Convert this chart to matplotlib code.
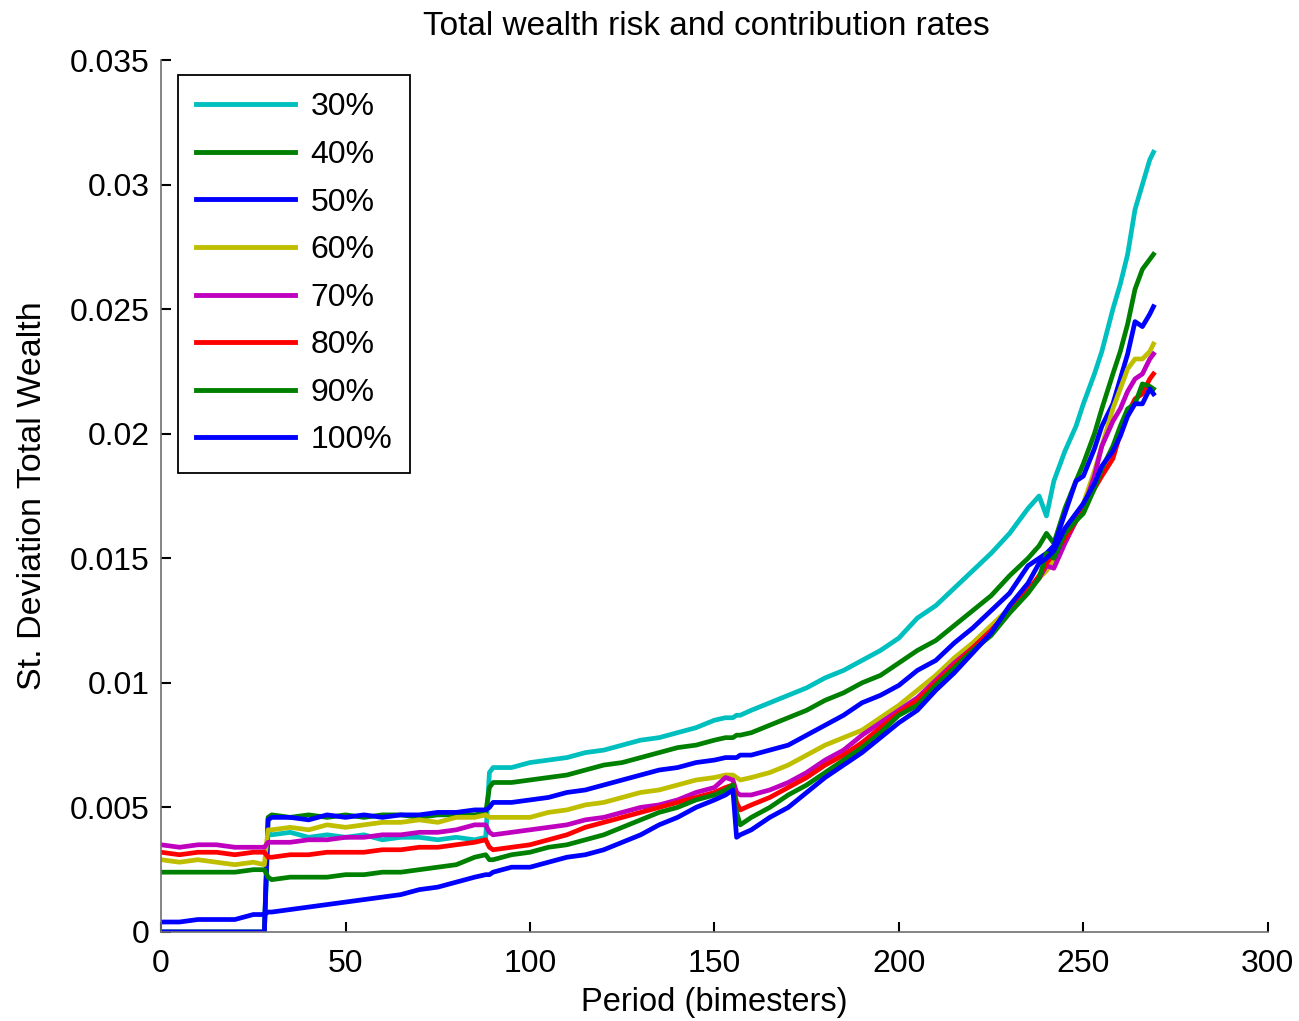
import matplotlib
matplotlib.use('Agg')
import matplotlib.pyplot as plt

plt.rcParams['font.family'] = ['Liberation Sans', 'DejaVu Sans']

periods = [0, 5, 10, 15, 20, 25, 28, 29, 30, 35, 40, 45, 50, 55, 60, 65, 70, 75, 80, 85,
           88, 89, 90, 95, 100, 105, 110, 115, 120, 125, 130, 135, 140, 145, 150,
           153, 155, 156, 157, 160, 165, 170, 175, 180, 185, 190, 195, 200, 205, 210,
           215, 220, 225, 230, 235, 238, 240, 242, 245, 248, 250, 253, 255, 258, 260,
           262, 264, 266, 268, 269]

r30 = [0, 0, 0, 0, 0, 0, 0, 0.0040, 0.0039, 0.0040, 0.0038, 0.0039, 0.0038, 0.0039, 0.0037,
       0.0038, 0.0038, 0.0037, 0.0038, 0.0037, 0.0038, 0.0064, 0.0066, 0.0066, 0.0068, 0.0069,
       0.0070, 0.0072, 0.0073, 0.0075, 0.0077, 0.0078, 0.0080, 0.0082, 0.0085, 0.0086, 0.0086,
       0.0087, 0.0087, 0.0089, 0.0092, 0.0095, 0.0098, 0.0102, 0.0105, 0.0109, 0.0113, 0.0118,
       0.0126, 0.0131, 0.0138, 0.0145, 0.0152, 0.0160, 0.0170, 0.0175, 0.0167, 0.0181, 0.0193,
       0.0203, 0.0212, 0.0224, 0.0233, 0.0250, 0.0260, 0.0272, 0.0290, 0.0300, 0.0310, 0.0313]

r40 = [0, 0, 0, 0, 0, 0, 0, 0.0046, 0.0047, 0.0046, 0.0047, 0.0046, 0.0047, 0.0046, 0.0047,
       0.0047, 0.0046, 0.0047, 0.0047, 0.0047, 0.0048, 0.0058, 0.0060, 0.0060, 0.0061, 0.0062,
       0.0063, 0.0065, 0.0067, 0.0068, 0.0070, 0.0072, 0.0074, 0.0075, 0.0077, 0.0078, 0.0078,
       0.0079, 0.0079, 0.0080, 0.0083, 0.0086, 0.0089, 0.0093, 0.0096, 0.0100, 0.0103, 0.0108,
       0.0113, 0.0117, 0.0123, 0.0129, 0.0135, 0.0143, 0.0150, 0.0155, 0.0160, 0.0156, 0.0170,
       0.0181, 0.0188, 0.0200, 0.0210, 0.0224, 0.0233, 0.0244, 0.0258, 0.0266, 0.0270, 0.0272]

r50 = [0, 0, 0, 0, 0, 0, 0, 0.0045, 0.0046, 0.0046, 0.0045, 0.0047, 0.0046, 0.0047, 0.0046,
       0.0047, 0.0047, 0.0048, 0.0048, 0.0049, 0.0049, 0.0050, 0.0052, 0.0052, 0.0053, 0.0054,
       0.0056, 0.0057, 0.0059, 0.0061, 0.0063, 0.0065, 0.0066, 0.0068, 0.0069, 0.0070, 0.0070,
       0.0070, 0.0071, 0.0071, 0.0073, 0.0075, 0.0079, 0.0083, 0.0087, 0.0092, 0.0095, 0.0099,
       0.0105, 0.0109, 0.0116, 0.0122, 0.0129, 0.0136, 0.0147, 0.0150, 0.0152, 0.0155, 0.0168,
       0.0181, 0.0183, 0.0194, 0.0203, 0.0212, 0.0222, 0.0232, 0.0245, 0.0243, 0.0248, 0.0251]

r60 = [0.0029, 0.0028, 0.0029, 0.0028, 0.0027, 0.0028, 0.0027, 0.0041, 0.0041, 0.0042, 0.0041,
       0.0043, 0.0042, 0.0043, 0.0044, 0.0044, 0.0045, 0.0044, 0.0046, 0.0046, 0.0047, 0.0046,
       0.0046, 0.0046, 0.0046, 0.0048, 0.0049, 0.0051, 0.0052, 0.0054, 0.0056, 0.0057, 0.0059,
       0.0061, 0.0062, 0.0063, 0.0063, 0.0062, 0.0061, 0.0062, 0.0064, 0.0067, 0.0071, 0.0075,
       0.0078, 0.0081, 0.0086, 0.0091, 0.0097, 0.0103, 0.0110, 0.0116, 0.0123, 0.0130, 0.0138,
       0.0142, 0.0145, 0.0150, 0.0157, 0.0165, 0.0172, 0.0185, 0.0195, 0.0210, 0.0218, 0.0226,
       0.0230, 0.0230, 0.0233, 0.0236]

r70 = [0.0035, 0.0034, 0.0035, 0.0035, 0.0034, 0.0034, 0.0034, 0.0036, 0.0036, 0.0036, 0.0037,
       0.0037, 0.0038, 0.0038, 0.0039, 0.0039, 0.0040, 0.0040, 0.0041, 0.0043, 0.0043, 0.0040,
       0.0039, 0.0040, 0.0041, 0.0042, 0.0043, 0.0045, 0.0046, 0.0048, 0.0050, 0.0051, 0.0053,
       0.0056, 0.0058, 0.0062, 0.0061, 0.0056, 0.0055, 0.0055, 0.0057, 0.0060, 0.0064, 0.0069,
       0.0073, 0.0079, 0.0084, 0.0089, 0.0094, 0.0101, 0.0108, 0.0114, 0.0121, 0.0129, 0.0137,
       0.0142, 0.0147, 0.0146, 0.0156, 0.0165, 0.0170, 0.0183, 0.0195, 0.0205, 0.0210, 0.0217,
       0.0222, 0.0224, 0.0230, 0.0232]

r80 = [0.0032, 0.0031, 0.0032, 0.0032, 0.0031, 0.0032, 0.0032, 0.0030, 0.0030, 0.0031, 0.0031,
       0.0032, 0.0032, 0.0032, 0.0033, 0.0033, 0.0034, 0.0034, 0.0035, 0.0036, 0.0037, 0.0034,
       0.0033, 0.0034, 0.0035, 0.0037, 0.0039, 0.0042, 0.0044, 0.0046, 0.0048, 0.0050, 0.0052,
       0.0054, 0.0056, 0.0058, 0.0059, 0.0052, 0.0049, 0.0051, 0.0054, 0.0058, 0.0062, 0.0067,
       0.0071, 0.0076, 0.0082, 0.0088, 0.0093, 0.0100, 0.0107, 0.0114, 0.0121, 0.0129, 0.0137,
       0.0143, 0.0148, 0.0152, 0.0158, 0.0165, 0.0170, 0.0178, 0.0183, 0.0190, 0.0200, 0.0208,
       0.0214, 0.0216, 0.0222, 0.0224]

r90 = [0.0024, 0.0024, 0.0024, 0.0024, 0.0024, 0.0025, 0.0025, 0.0022, 0.0021, 0.0022, 0.0022,
       0.0022, 0.0023, 0.0023, 0.0024, 0.0024, 0.0025, 0.0026, 0.0027, 0.0030, 0.0031, 0.0029,
       0.0029, 0.0031, 0.0032, 0.0034, 0.0035, 0.0037, 0.0039, 0.0042, 0.0045, 0.0048, 0.0050,
       0.0053, 0.0055, 0.0057, 0.0059, 0.0048, 0.0043, 0.0046, 0.0050, 0.0055, 0.0059, 0.0064,
       0.0069, 0.0074, 0.0080, 0.0087, 0.0091, 0.0099, 0.0106, 0.0113, 0.0119, 0.0128, 0.0136,
       0.0142, 0.0152, 0.0150, 0.0160, 0.0165, 0.0168, 0.0178, 0.0186, 0.0195, 0.0203, 0.0210,
       0.0212, 0.0220, 0.0219, 0.0218]

r100 = [0.0004, 0.0004, 0.0005, 0.0005, 0.0005, 0.0007, 0.0007, 0.0008, 0.0008, 0.0009, 0.0010,
        0.0011, 0.0012, 0.0013, 0.0014, 0.0015, 0.0017, 0.0018, 0.0020, 0.0022, 0.0023, 0.0023,
        0.0024, 0.0026, 0.0026, 0.0028, 0.0030, 0.0031, 0.0033, 0.0036, 0.0039, 0.0043, 0.0046,
        0.0050, 0.0053, 0.0055, 0.0057, 0.0038, 0.0039, 0.0041, 0.0046, 0.0050, 0.0056, 0.0062,
        0.0067, 0.0072, 0.0078, 0.0084, 0.0089, 0.0097, 0.0104, 0.0112, 0.0120, 0.0131, 0.0140,
        0.0148, 0.0150, 0.0153, 0.0162, 0.0168, 0.0172, 0.0180, 0.0187, 0.0193, 0.0199, 0.0207,
        0.0212, 0.0212, 0.0218, 0.0216]

series = [r30, r40, r50, r60, r70, r80, r90, r100]
labels = ['30%', '40%', '50%', '60%', '70%', '80%', '90%', '100%']
colors = ['#00BFBF', '#008000', '#0000FF', '#BFBF00', '#BF00BF', '#FF0000', '#008000', '#0000FF']

yticks = [0, 0.005, 0.01, 0.015, 0.02, 0.025, 0.03, 0.035]
ytick_labels = ['0', '0.005', '0.01', '0.015', '0.02', '0.025', '0.03', '0.035']
xticks = [0, 50, 100, 150, 200, 250, 300]

fig = plt.figure(figsize=(12.99, 10.21), dpi=100)
ax = fig.add_axes([0.124, 0.0872, 0.852, 0.854])

for vals, lab, col in zip(series, labels, colors):
    ax.plot(periods, vals, color=col, lw=3.4, label=lab)

ax.set_xlim(0, 300)
ax.set_ylim(0, 0.035)
ax.set_xticks(xticks)
ax.set_yticks(yticks)
ax.set_yticklabels(ytick_labels)

for s in ['top', 'right']:
    ax.spines[s].set_visible(False)
for s in ['left', 'bottom']:
    ax.spines[s].set_color('#707070')
    ax.spines[s].set_linewidth(1.2)

ax.tick_params(direction='in', length=7, width=1.5, color='black', labelsize=23)
ax.tick_params(axis='x', pad=12)
ax.tick_params(axis='y', pad=8)

ax.set_title('Total wealth risk and contribution rates', fontsize=24, pad=18, x=0.493)
ax.set_xlabel('Period (bimesters)', fontsize=23.5, labelpad=6)
ax.set_ylabel('St. Deviation Total Wealth', fontsize=24.5, labelpad=16)

leg = ax.legend(loc='upper left', bbox_to_anchor=(0.0154, 0.983), borderaxespad=0,
                fontsize=23, fancybox=False, framealpha=1, edgecolor='black',
                handlelength=3.1, handletextpad=0.5, labelspacing=0.55, borderpad=0.55)
leg.get_frame().set_linewidth(1.3)
for h in leg.get_lines():
    h.set_linewidth(3.5)

fig.savefig('out.png', dpi=100)
